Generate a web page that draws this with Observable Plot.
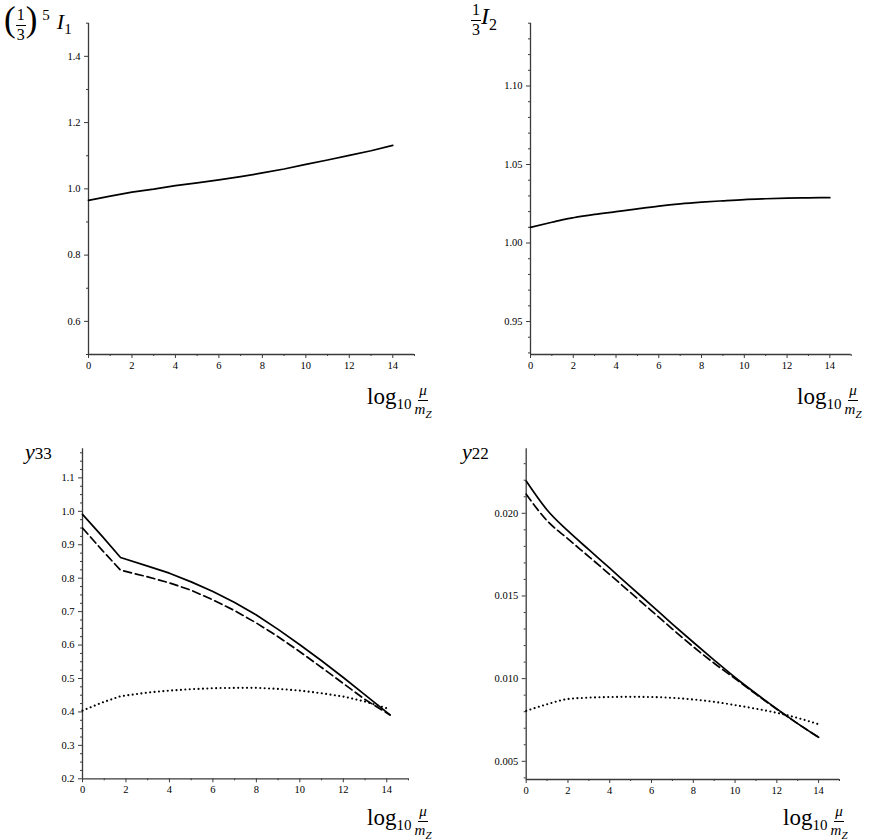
<!DOCTYPE html>
<html>
<head>
<meta charset="utf-8">
<script src="https://cdn.jsdelivr.net/npm/d3@7"></script>
<script src="https://cdn.jsdelivr.net/npm/@observablehq/plot@0.6"></script>
<style>
  html, body { margin: 0; padding: 0; background: #fff; }
  #fig { position: relative; width: 882px; height: 840px; overflow: hidden; }
  .panel { position: absolute; }
  .panel svg { display: block; }
  #fig svg text { font-family: "Liberation Serif", "DejaVu Serif", serif !important; font-size: 10.5px; fill: #000; }
  .lab { position: absolute; font-family: "Liberation Serif", "DejaVu Serif", serif; color: #000; white-space: nowrap; line-height: 1; }
  .frac { display: inline-flex; flex-direction: column; align-items: center; vertical-align: middle; line-height: 1.05; }
  .frac > .num { border-bottom: 1px solid #000; padding: 0 1px 1px; }
  .frac > .den { padding-top: 1px; }
  .lo { position: relative; top: 0.35em; }
  .hi { position: relative; top: -0.6em; }
</style>
</head>
<body>
<div id="fig"></div>
<script>
// log10(mu / mZ) sampling points and running quantities
const xTop = [0, 1, 1.75, 2, 3, 4, 5, 6, 7, 8, 9, 10, 11, 12, 13, 14];
const i1Scaled = [0.965, 0.978, 0.987, 0.990, 0.999, 1.010, 1.018, 1.027, 1.037, 1.048, 1.060, 1.074, 1.087, 1.101, 1.115, 1.131];
const i2Scaled = [1.0100, 1.0132, 1.0155, 1.0161, 1.0182, 1.0200, 1.0218, 1.0235, 1.0249, 1.0260, 1.0269, 1.0277, 1.0282, 1.0286, 1.0288, 1.0289];

const x33 = [0, 0.9, 1.75, 3, 4, 5, 6, 7, 8, 9, 10, 11, 12, 13, 14.15];
const y33Solid  = [0.991, 0.926, 0.862, 0.836, 0.815, 0.789, 0.760, 0.727, 0.690, 0.647, 0.601, 0.553, 0.503, 0.451, 0.391];
const y33Dashed = [0.950, 0.884, 0.824, 0.804, 0.786, 0.764, 0.735, 0.703, 0.666, 0.625, 0.580, 0.533, 0.485, 0.437, 0.391];
const y33Dotted = [0.404, 0.428, 0.447, 0.458, 0.464, 0.468, 0.471, 0.472, 0.472, 0.469, 0.464, 0.456, 0.446, 0.431, 0.408];

const x22 = [0, 1, 2, 3, 4, 5, 6, 7, 8, 9, 10, 11, 12, 13, 14];
const y22Solid  = [0.02195, 0.02020, 0.01893, 0.01780, 0.01668, 0.01555, 0.01443, 0.01330, 0.01220, 0.01112, 0.01007, 0.00910, 0.00817, 0.00728, 0.00645];
const y22Dashed = [0.02115, 0.01955, 0.01845, 0.01738, 0.01630, 0.01520, 0.01410, 0.01300, 0.01193, 0.01093, 0.01000, 0.00906, 0.00815, 0.00728, 0.00645];
const y22Dotted = [0.00805, 0.00845, 0.00877, 0.00885, 0.00889, 0.00890, 0.00889, 0.00884, 0.00874, 0.00860, 0.00840, 0.00818, 0.00793, 0.00762, 0.00724];

// axis ticks
const xMajor = [0, 2, 4, 6, 8, 10, 12, 14];
const xMinor = [1, 3, 5, 7, 9, 11, 13, 15];
const yMajor1 = [0.6, 0.8, 1.0, 1.2, 1.4];
const yMajor2 = [0.95, 1.00, 1.05, 1.10];
const yMajor3 = [0.2, 0.3, 0.4, 0.5, 0.6, 0.7, 0.8, 0.9, 1.0, 1.1];
const yMajor4 = [0.005, 0.010, 0.015, 0.020];

const rows = (xs, ys) => xs.map((x, i) => ({x, y: ys[i]}));
const minorBetween = (lo, hi, step, majors) =>
  d3.range(Math.round(lo / step), Math.round(hi / step) + 1)
    .map(k => +(k * step).toFixed(6))
    .filter(v => v >= lo - 1e-9 && v <= hi + 1e-9 && !majors.some(m => Math.abs(m - v) < 1e-9));

const AX = "#3a3a3a";
const SERIF = "Liberation Serif, DejaVu Serif, serif";
const solid = {stroke: "#000", strokeWidth: 1.7};
const dashed = {stroke: "#000", strokeWidth: 1.7, strokeDasharray: "8,4"};
const dotted = {stroke: "#000", strokeWidth: 2.1, strokeDasharray: "0.01,4.4", strokeLinecap: "round"};

function panel({width, height, margins, yDomain, yMajor, yMinor, yFormat, lines}) {
  const [mt, mr, mb, ml] = margins;
  return Plot.plot({
    width, height,
    marginTop: mt, marginRight: mr, marginBottom: mb, marginLeft: ml,
    x: {domain: [0, 15]},
    y: {domain: yDomain},
    style: {background: "transparent", color: "#000"},
    marks: [
      Plot.axisX({ticks: xMajor, tickSize: 4, tickPadding: 3, tickFormat: d => String(d), label: null, stroke: AX, fontFamily: SERIF}),
      Plot.axisX({ticks: xMinor, tickSize: 2, tickFormat: () => "", label: null, stroke: AX}),
      Plot.axisY({ticks: yMajor, tickSize: 4, tickPadding: 4, tickFormat: yFormat, label: null, stroke: AX, fontFamily: SERIF}),
      Plot.axisY({ticks: yMinor, tickSize: 2, tickFormat: () => "", label: null, stroke: AX}),
      Plot.ruleX([0], {stroke: AX, strokeWidth: 1.3}),
      Plot.ruleY([yDomain[0]], {stroke: AX, strokeWidth: 1.3}),
      ...lines
    ]
  });
}

const fig = document.getElementById("fig");
function place(node, left, top) {
  const d = document.createElement("div");
  d.className = "panel";
  d.style.left = left + "px";
  d.style.top = top + "px";
  d.appendChild(node);
  fig.appendChild(d);
}
function label(html, left, top) {
  const d = document.createElement("div");
  d.className = "lab";
  d.style.left = left + "px";
  d.style.top = top + "px";
  d.innerHTML = html;
  fig.appendChild(d);
}

// (1/3)^5 I1
place(panel({
  width: 440, height: 420, margins: [22.7, 26, 66, 88],
  yDomain: [0.5, 1.5], yMajor: yMajor1,
  yMinor: minorBetween(0.5, 1.5, 0.1, yMajor1), yFormat: d3.format(".1f"),
  lines: [Plot.line(rows(xTop, i1Scaled), {x: "x", y: "y", ...solid})]
}), 0, 0);

// (1/3) I2
place(panel({
  width: 442, height: 420, margins: [22.7, 31.3, 66, 90],
  yDomain: [0.929, 1.14], yMajor: yMajor2,
  yMinor: minorBetween(0.93, 1.14, 0.01, yMajor2), yFormat: d3.format(".2f"),
  lines: [Plot.line(rows(xTop, i2Scaled), {x: "x", y: "y", curve: "monotone-x", ...solid})]
}), 440, 0);

// y33
place(panel({
  width: 440, height: 420, margins: [28.3, 32, 61.7, 82],
  yDomain: [0.2, 1.187], yMajor: yMajor3,
  yMinor: minorBetween(0.2, 1.187, 0.025, yMajor3), yFormat: d3.format(".1f"),
  lines: [
    Plot.line(rows(x33, y33Dotted), {x: "x", y: "y", ...dotted}),
    Plot.line(rows(x33, y33Dashed), {x: "x", y: "y", ...dashed}),
    Plot.line(rows(x33, y33Solid), {x: "x", y: "y", ...solid})
  ]
}), 0, 420);

// y22
place(panel({
  width: 442, height: 420, margins: [28.3, 43, 61, 85.7],
  yDomain: [0.0039, 0.0239], yMajor: yMajor4,
  yMinor: minorBetween(0.004, 0.0239, 0.001, yMajor4), yFormat: d3.format(".3f"),
  lines: [
    Plot.line(rows(x22, y22Dotted), {x: "x", y: "y", curve: "monotone-x", ...dotted}),
    Plot.line(rows(x22, y22Dashed), {x: "x", y: "y", curve: "monotone-x", ...dashed}),
    Plot.line(rows(x22, y22Solid), {x: "x", y: "y", curve: "monotone-x", ...solid})
  ]
}), 440, 420);

// axis titles
const xTitle = `<span style="font-size:23px">log</span><span class="lo" style="font-size:15px">10</span>&thinsp;<span class="frac" style="font-size:15px"><span class="num"><i>μ</i></span><span class="den"><i>m</i><span class="lo" style="font-size:11px"><i>Z</i></span></span></span>`;
label(xTitle, 367, 383);
label(xTitle, 797, 383);
label(xTitle, 367, 804);
label(xTitle, 783, 804);

label(`<span style="font-size:35px;font-weight:300;position:relative;top:2px">(</span><span class="frac" style="font-size:16px"><span class="num">1</span><span class="den">3</span></span><span style="font-size:35px;font-weight:300;position:relative;top:2px">)</span><span class="hi" style="font-size:15px;margin-left:5px">5</span><i style="font-size:22px;margin-left:7px">I</i><span class="lo" style="font-size:15px">1</span>`, 4, 0);
label(`<span class="frac" style="font-size:16px"><span class="num">1</span><span class="den">3</span></span><i style="font-size:24px">I</i><span class="lo" style="font-size:16px">2</span>`, 471, 2);
label(`<i style="font-size:22px">y</i><span style="font-size:17px">33</span>`, 25, 441);
label(`<i style="font-size:22px">y</i><span style="font-size:17px">22</span>`, 462, 441);
</script>
</body>
</html>
